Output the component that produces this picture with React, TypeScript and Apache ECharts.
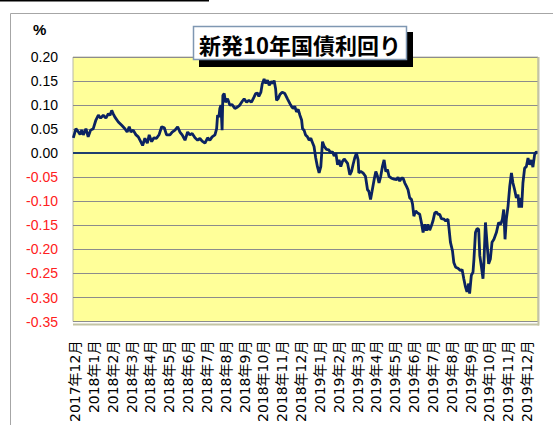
import React, { useEffect, useRef } from "react";
import * as echarts from "echarts";

const titleText = "新発10年国債利回り";
const unitLabel = "%";

const monthLabels = [
  "2017年12月", "2018年1月", "2018年2月", "2018年3月", "2018年4月", "2018年5月",
  "2018年6月", "2018年7月", "2018年8月", "2018年9月", "2018年10月", "2018年11月",
  "2018年12月", "2019年1月", "2019年2月", "2019年3月", "2019年4月", "2019年5月",
  "2019年6月", "2019年7月", "2019年8月", "2019年9月", "2019年10月", "2019年11月",
  "2019年12月",
];

// position in months from the start of Dec 2017 (label ticks at integers)
const monthPos = [
  -0.09, 0.05, 0.18, 0.27, 0.36, 0.44, 0.58, 0.70, 0.83, 0.97,
  1.11, 1.24, 1.36, 1.50, 1.64, 1.77, 1.86, 1.95, 2.03, 2.12,
  2.30, 2.48, 2.65, 2.77, 2.88, 2.97, 3.09, 3.24, 3.36, 3.49,
  3.59, 3.71, 3.84, 3.94, 4.07, 4.19, 4.33, 4.47, 4.60, 4.74,
  4.86, 5.04, 5.16, 5.31, 5.45, 5.57, 5.69, 5.84, 5.98, 6.10,
  6.22, 6.37, 6.51, 6.63, 6.75, 6.90, 7.04, 7.16, 7.28, 7.43,
  7.52, 7.57, 7.64, 7.69, 7.75, 7.81, 7.85, 7.92, 7.99, 8.10,
  8.22, 8.34, 8.49, 8.63, 8.75, 8.88, 8.98, 9.11, 9.23, 9.37,
  9.51, 9.59, 9.69, 9.76, 9.87, 9.94, 10.04, 10.13, 10.22, 10.31,
  10.40, 10.49, 10.57, 10.65, 10.70, 10.78, 10.88, 11.00, 11.14, 11.28,
  11.41, 11.50, 11.58, 11.67, 11.76, 11.85, 11.94, 12.03, 12.08, 12.16,
  12.24, 12.34, 12.43, 12.52, 12.59, 12.69, 12.78, 12.87, 12.96, 13.05,
  13.14, 13.23, 13.35, 13.47, 13.58, 13.67, 13.76, 13.85, 13.94, 14.02,
  14.11, 14.20, 14.29, 14.47, 14.59, 14.68, 14.76, 14.85, 14.94, 15.03,
  15.07, 15.17, 15.29, 15.42, 15.53, 15.60, 15.69, 15.77, 15.88, 15.97,
  16.06, 16.14, 16.23, 16.32, 16.41, 16.50, 16.59, 16.67, 16.80, 16.94,
  17.07, 17.15, 17.24, 17.33, 17.42, 17.51, 17.60, 17.68, 17.77, 17.86,
  17.92, 17.99, 18.08, 18.18, 18.30, 18.39, 18.48, 18.57, 18.66, 18.74,
  18.83, 18.92, 19.01, 19.10, 19.19, 19.27, 19.36, 19.45, 19.58, 19.68,
  19.80, 19.86, 19.93, 20.04, 20.11, 20.21, 20.33, 20.46, 20.55, 20.64,
  20.73, 20.81, 20.90, 20.95, 21.04, 21.13, 21.18, 21.26, 21.34, 21.43,
  21.49, 21.58, 21.66, 21.71, 21.79, 21.87, 21.96, 22.05, 22.14, 22.24,
  22.37, 22.49, 22.60, 22.69, 22.76, 22.83, 22.90, 22.99, 23.08, 23.17,
  23.25, 23.34, 23.43, 23.52, 23.57, 23.64, 23.71, 23.78, 23.87, 23.96,
  24.05, 24.14, 24.23, 24.31, 24.40, 24.49, 24.57,
];

const yieldPct = [
  0.032, 0.051, 0.044, 0.039, 0.048, 0.038, 0.051, 0.034, 0.048, 0.051,
  0.069, 0.079, 0.073, 0.079, 0.073, 0.082, 0.079, 0.089, 0.082, 0.075,
  0.065, 0.058, 0.051, 0.044, 0.055, 0.044, 0.048, 0.038, 0.034, 0.024,
  0.016, 0.031, 0.021, 0.038, 0.024, 0.032, 0.031, 0.039, 0.055, 0.053,
  0.038, 0.038, 0.044, 0.048, 0.055, 0.044, 0.038, 0.027, 0.044, 0.038,
  0.041, 0.032, 0.027, 0.031, 0.025, 0.021, 0.032, 0.027, 0.034, 0.038,
  0.051, 0.079, 0.075, 0.093, 0.100, 0.048, 0.120, 0.124, 0.106, 0.113,
  0.100, 0.101, 0.093, 0.096, 0.100, 0.108, 0.113, 0.106, 0.110, 0.106,
  0.117, 0.124, 0.125, 0.118, 0.127, 0.144, 0.154, 0.145, 0.152, 0.141,
  0.149, 0.145, 0.151, 0.134, 0.110, 0.113, 0.122, 0.127, 0.124, 0.113,
  0.103, 0.097, 0.093, 0.097, 0.086, 0.091, 0.079, 0.069, 0.051, 0.048,
  0.038, 0.034, 0.027, 0.031, 0.024, 0.014, -0.010, -0.028, -0.041, -0.028,
  0.024, 0.014, 0.008, 0.007, 0.001, 0.003, -0.006, 0.000, -0.024, -0.014,
  -0.028, -0.017, -0.012, -0.021, -0.045, -0.038, -0.024, -0.010, 0.000, -0.014,
  -0.041, -0.038, -0.041, -0.048, -0.076, -0.079, -0.096, -0.079, -0.055, -0.038,
  -0.048, -0.062, -0.048, -0.028, -0.014, -0.038, -0.034, -0.048, -0.052, -0.054,
  -0.055, -0.050, -0.058, -0.052, -0.052, -0.062, -0.069, -0.076, -0.093, -0.096,
  -0.106, -0.131, -0.120, -0.124, -0.127, -0.144, -0.165, -0.148, -0.161, -0.148,
  -0.160, -0.151, -0.140, -0.124, -0.122, -0.127, -0.127, -0.136, -0.137, -0.141,
  -0.137, -0.158, -0.185, -0.203, -0.227, -0.237, -0.239, -0.244, -0.242, -0.261,
  -0.278, -0.288, -0.271, -0.292, -0.254, -0.247, -0.220, -0.165, -0.157, -0.158,
  -0.213, -0.237, -0.261, -0.227, -0.144, -0.185, -0.230, -0.220, -0.185, -0.179,
  -0.165, -0.144, -0.148, -0.137, -0.117, -0.179, -0.137, -0.110, -0.069, -0.041,
  -0.062, -0.076, -0.093, -0.086, -0.113, -0.093, -0.113, -0.062, -0.031, -0.028,
  -0.010, -0.024, -0.014, -0.029, -0.003, 0.003, 0.000,
];

const labelTicks = monthLabels.map((_, i) => i);

export default function App() {
  const ref = useRef<HTMLDivElement>(null);
  useEffect(() => {
    if (!ref.current) return;
    const chart = echarts.init(ref.current, null, { renderer: "svg" });
    const data = monthPos.map((m, i) => [m, yieldPct[i]]);
    chart.setOption({
      animation: false,
      backgroundColor: "#ffffff",
      grid: {
        left: 73,
        top: 57,
        right: 15,
        bottom: 101,
        show: true,
        backgroundColor: "#FFFF99",
        borderColor: "#b8b8a8",
        borderWidth: 1,
      },
      xAxis: {
        type: "value",
        min: -0.106,
        max: 24.58,
        axisLine: { show: false },
        axisTick: { show: false },
        splitLine: { show: false },
        axisLabel: {
          customValues: labelTicks,
          formatter: (v: number) => monthLabels[Math.round(v)] ?? "",
          rotate: 90,
          margin: 19,
          color: "#000",
          fontSize: 14,
          fontFamily: "'DejaVu Sans', 'Noto Sans CJK JP', sans-serif",
          hideOverlap: false,
        },
      },
      yAxis: {
        type: "value",
        min: -0.35,
        max: 0.2,
        interval: 0.05,
        axisLine: { show: false },
        axisTick: { show: false },
        splitLine: { show: true, lineStyle: { color: "#8c8c8c", width: 1 } },
        axisLabel: {
          margin: 15,
          fontSize: 14,
          fontFamily: "'Liberation Sans', Arial, sans-serif",
          formatter: (v: number) => (Math.abs(v) < 1e-9 ? 0 : v).toFixed(2),
          color: (v: any) => (Number(v) < -1e-9 ? "#ff2020" : "#000000"),
        },
      },
      series: [
        {
          type: "line",
          data,
          symbol: "none",
          lineStyle: { color: "#0b2361", width: 2.8 },
          z: 3,
          markLine: {
            silent: true,
            symbol: "none",
            label: { show: false },
            lineStyle: { color: "#1f3f6e", width: 2, type: "solid" },
            data: [{ yAxis: 0 }],
            z: 2,
          },
        },
      ],
      graphic: [
        {
          type: "line",
          shape: { x1: 0, y1: 0.5, x2: 209, y2: 0.5 },
          style: { stroke: "#000", lineWidth: 2 },
        },
        {
          type: "rect",
          shape: { x: 10.5, y: 13.5, width: 560, height: 430 },
          style: { fill: "none", stroke: "#a6a6a6", lineWidth: 1 },
          z: -1,
        },
        {
          type: "line",
          shape: { x1: 73, y1: 324.5, x2: 539, y2: 324.5 },
          style: { stroke: "#c4c4a4", lineWidth: 2 },
          z: 5,
        },
        {
          type: "line",
          shape: { x1: 538.5, y1: 57, x2: 538.5, y2: 325.5 },
          style: { stroke: "#c4c4a4", lineWidth: 2 },
          z: 5,
        },
        {
          type: "text",
          left: 33,
          top: 22,
          style: {
            text: unitLabel,
            fontSize: 15,
            fontWeight: "bold",
            fontFamily: "'Liberation Sans', Arial, sans-serif",
            fill: "#000",
          },
        },
        {
          type: "rect",
          shape: { x: 199, y: 32, width: 214, height: 35 },
          style: { fill: "#000" },
          z: 10,
        },
        {
          type: "rect",
          shape: { x: 193.5, y: 26.5, width: 213, height: 33 },
          style: { fill: "#fff", stroke: "#7f97b2", lineWidth: 1.5 },
          z: 11,
        },
        {
          type: "text",
          x: 300,
          y: 43.5,
          style: {
            text: titleText,
            fontSize: 22,
            fontWeight: "bold",
            fontFamily: "'Noto Sans CJK JP', sans-serif",
            fill: "#000",
            align: "center",
            verticalAlign: "middle",
          },
          z: 12,
        },
      ],
    });
    return () => chart.dispose();
  }, []);
  return (
    <div
      ref={ref}
      style={{ position: "fixed", left: 0, top: 0, width: 553, height: 425 }}
    />
  );
}
